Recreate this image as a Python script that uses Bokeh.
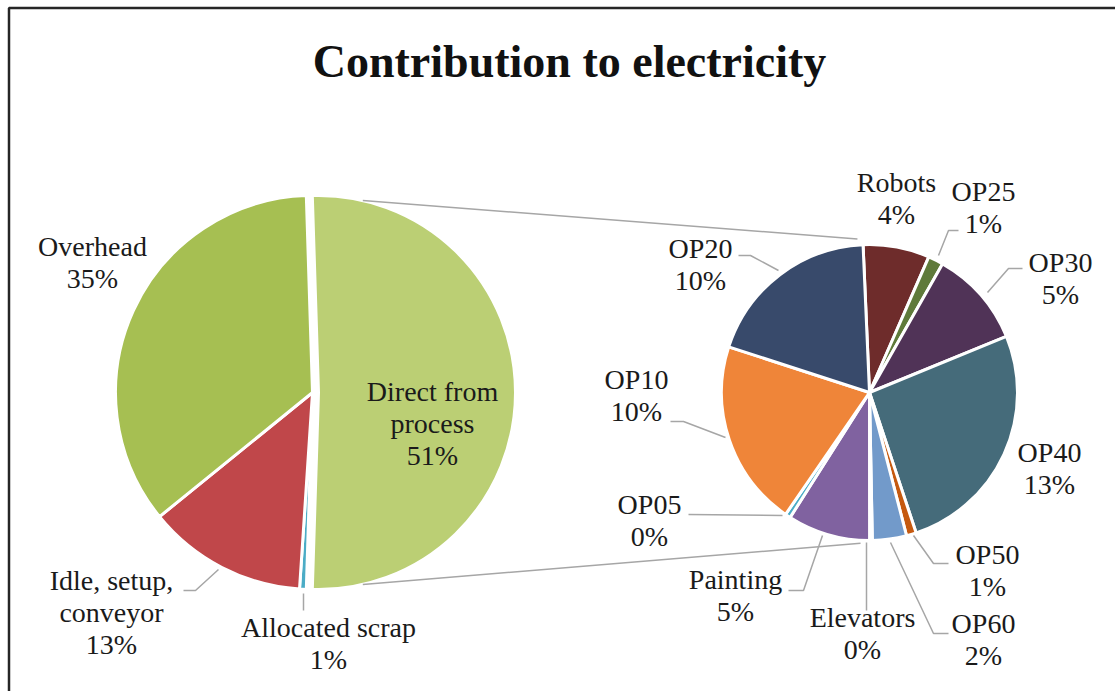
import math
from bokeh.plotting import figure
from bokeh.models import Range1d
from bokeh.core.properties import value
from bokeh.embed import file_html
from bokeh.resources import INLINE

# ---------------- data ----------------
main_labels = ["Direct from\nprocess", "Allocated scrap", "Idle, setup,\nconveyor", "Overhead"]
main_values = [51.0, 0.55, 13.1, 35.35]          # % of total electricity
main_colors = ["#BBCF74", "#4BACC6", "#C0474A", "#A6BF52"]

sub_labels = ["Robots", "OP25", "OP30", "OP40", "OP50", "OP60",
              "Elevators", "Painting", "OP05", "OP10", "OP20"]
sub_values = [3.7, 0.85, 5.4, 13.3, 0.55, 1.9, 0.15, 4.6, 0.3, 10.4, 9.85]  # % of total
sub_colors = ["#6E2C2B", "#5F7A3A", "#503357", "#456B7A", "#C5590F", "#729ACA",
              "#E8A09E", "#8062A0", "#4BACC6", "#EF8539", "#384A6B"]

title = "Contribution to electricity"

# ---------------- layout (pixel space, y measured from top) ----------------
W, H = 1115, 691
FONT = "Liberation Serif"
LABEL_SIZE = 28
TITLE_SIZE = 46
BASE_SHIFT = 0.36   # em correction so glyph baselines land where wanted
L_CX, L_CY, L_R = 312, 392, 197
EXPLODE = 6
R_CX, R_CY, R_R = 869, 392, 148
R_START = -2.5   # degrees clockwise from 12 o'clock

main_label_pos = [(432, 401), (328, 637), (111, 590), (92, 256)]
sub_label_pos = [(896, 192), (983, 201), (1060, 272), (1049, 462), (987, 564),
                 (983, 633), (862, 627), (735, 589), (649, 514), (636, 389), (700, 258)]
LINE_H = 32

leaders = [
    [(183, 590), (195, 590), (218, 569)],
    [(303, 593), (303, 610)],
    [(958, 230), (948, 230), (938, 255)],
    [(1022, 268), (1008, 268), (987, 292)],
    [(948, 563), (933, 563), (913, 535)],
    [(948, 633), (933, 633), (890, 542)],
    [(866, 542), (866, 610)],
    [(788, 590), (803, 590), (822, 535)],
    [(688, 514), (782, 515)],
    [(670, 421), (683, 421), (725, 437)],
    [(738, 255), (750, 255), (778, 270)],
]


def Y(v):
    return H - v


def bk_angle(theta_deg):
    """clockwise-from-top degrees -> bokeh radians (ccw from +x)"""
    return math.radians(90.0 - theta_deg)


p = figure(width=W, height=H, output_backend="svg", toolbar_location=None,
           x_range=Range1d(0, W), y_range=Range1d(0, H), min_border=0,
           background_fill_color="white", border_fill_color="white")
p.axis.visible = False
p.grid.visible = False
p.outline_line_color = None

# frame (only top and left edges are in the window)
p.line([8.5, 8.5, W + 20], [Y(H + 20), Y(7.5), Y(7.5)], line_color="#262626", line_width=2.5)

# ---------------- main pie ----------------
total_main = sum(main_values)
direct_span = main_values[0] / total_main * 360.0
theta = 90.0 - direct_span / 2.0
m_start, m_end = [], []
for v in main_values:
    span = v / total_main * 360.0
    m_start.append(theta)
    m_end.append(theta + span)
    theta += span

for i, (s, e) in enumerate(zip(m_start, m_end)):
    cx, cy = L_CX, L_CY
    if i == 0:
        mid = math.radians((s + e) / 2.0)
        cx += EXPLODE * math.sin(mid)
        cy -= EXPLODE * math.cos(mid)
    p.wedge(x=cx, y=Y(cy), radius=L_R, start_angle=bk_angle(s), end_angle=bk_angle(e),
            direction="clock", fill_color=main_colors[i], line_color="white", line_width=3)

# ---------------- sub pie ----------------
total_sub = sum(sub_values)
theta = R_START
for i, v in enumerate(sub_values):
    span = v / total_sub * 360.0
    p.wedge(x=R_CX, y=Y(R_CY), radius=R_R, start_angle=bk_angle(theta),
            end_angle=bk_angle(theta + span), direction="clock",
            fill_color=sub_colors[i], line_color="white", line_width=3)
    theta += span

# ---------------- connector lines ----------------
dcx = L_CX + EXPLODE
top_l = (dcx + L_R * math.sin(math.radians(13)), L_CY - L_R * math.cos(math.radians(13)))
bot_l = (dcx + L_R * math.sin(math.radians(167)), L_CY - L_R * math.cos(math.radians(167)))
top_r = (R_CX + 154 * math.sin(math.radians(-4.5)), R_CY - 154 * math.cos(math.radians(-4.5)))
bot_r = (R_CX + 151 * math.sin(math.radians(183.4)), R_CY - 151 * math.cos(math.radians(183.4)))
p.segment(x0=[top_l[0], bot_l[0]], y0=[Y(top_l[1]), Y(bot_l[1])],
          x1=[top_r[0], bot_r[0]], y1=[Y(top_r[1]), Y(bot_r[1])],
          line_color="#A6A6A6", line_width=1.5)

# ---------------- leader lines ----------------
p.multi_line(xs=[[pt[0] for pt in ln] for ln in leaders],
             ys=[[Y(pt[1]) for pt in ln] for ln in leaders],
             line_color="#A6A6A6", line_width=1.5)

# ---------------- labels ----------------
tx, ty, tt = [], [], []


def add_label(name, val, pos):
    lines = name.split("\n") + ["%d%%" % round(val)]
    for k, ln in enumerate(lines):
        tx.append(pos[0])
        ty.append(Y(pos[1] + k * LINE_H - BASE_SHIFT * LABEL_SIZE))
        tt.append(ln)


for name, val, pos in zip(main_labels, main_values, main_label_pos):
    add_label(name, val, pos)
for name, val, pos in zip(sub_labels, sub_values, sub_label_pos):
    add_label(name, val, pos)

p.text(x=tx, y=ty, text=tt, text_font=value(FONT), text_font_size="%dpx" % LABEL_SIZE,
       text_align="center", text_baseline="alphabetic", text_color="#1A1A1A")

p.text(x=[569], y=[Y(78 - BASE_SHIFT * TITLE_SIZE)], text=[title], text_font=value(FONT),
       text_font_size="%dpx" % TITLE_SIZE, text_font_style="bold", text_align="center",
       text_baseline="alphabetic", text_color="#111111")

open("out.html", "w").write(file_html(p, INLINE))
